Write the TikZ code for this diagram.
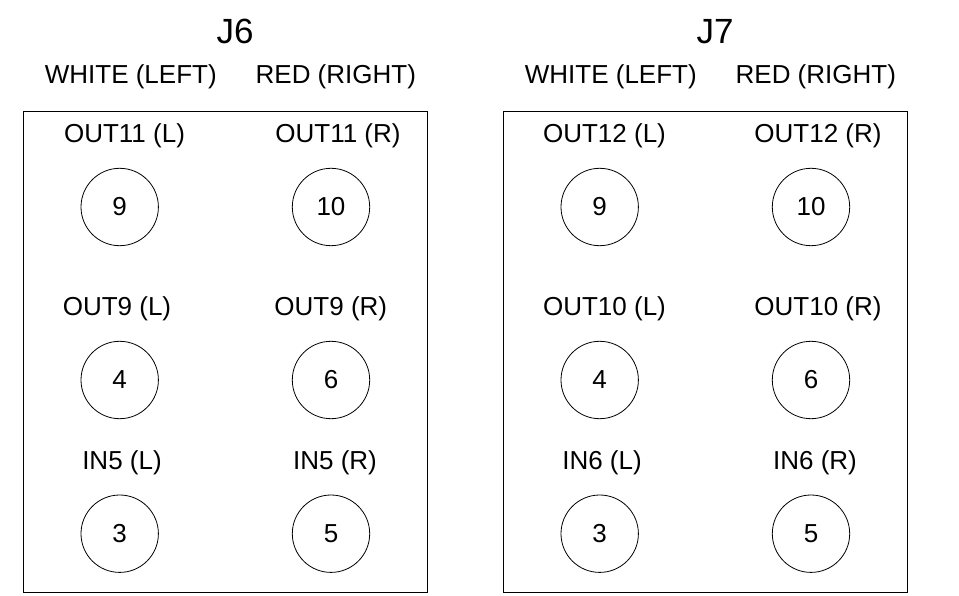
\documentclass[tikz,border=0pt]{standalone}
\usepackage{fontspec}
\setmainfont{Liberation Sans}
\begin{document}
\begin{tikzpicture}[x=1pt,y=-1pt,
  lbl/.style={font=\fontsize{26}{30}\selectfont, anchor=base, inner sep=0pt},
  ttl/.style={font=\fontsize{35}{40}\selectfont, anchor=base, inner sep=0pt},
  jack/.style={draw, circle, line width=0.8pt, minimum size=77.4pt, inner sep=0pt, font=\fontsize{26}{30}\selectfont},
  panel/.style={draw, line width=0.9pt}]
\useasboundingbox (0,0) rectangle (959,596);
\foreach \dx/\J/\A/\B/\C in {0/J6/OUT11/OUT9/IN5, 480/J7/OUT12/OUT10/IN6}{
  \begin{scope}[xshift=\dx]
  \node[panel, minimum width=403.7pt, minimum height=480.7pt, anchor=north west] (box\J) at (23.3,111) {};
  \node[ttl] (title\J) at (235,43.3) {\J};
  \node[lbl] (white\J) at (130.8,83.3) {WHITE (LEFT)};
  \node[lbl] (red\J) at (335.8,83.3) {RED (RIGHT)};
  \node[lbl] (a\J l) at (124.5,142.3) {\A\ (L)};
  \node[lbl] (a\J r) at (338,142.3) {\A\ (R)};
  \node[lbl] (b\J l) at (\ifnum\dx=0 117\else 124.5\fi,315.7) {\B\ (L)};
  \node[lbl] (b\J r) at (\ifnum\dx=0 330.8\else 338\fi,315.7) {\B\ (R)};
  \node[lbl] (c\J l) at (122,469) {\C\ (L)};
  \node[lbl] (c\J r) at (335,469) {\C\ (R)};
  \node[jack] (p9\J) at (119.7,207) {9};
  \node[jack] (p10\J) at (331,207) {10};
  \node[jack] (p4\J) at (119.7,380) {4};
  \node[jack] (p6\J) at (331,380) {6};
  \node[jack] (p3\J) at (119.7,533.7) {3};
  \node[jack] (p5\J) at (331,533.7) {5};
  \end{scope}
}
\end{tikzpicture}
\end{document}
